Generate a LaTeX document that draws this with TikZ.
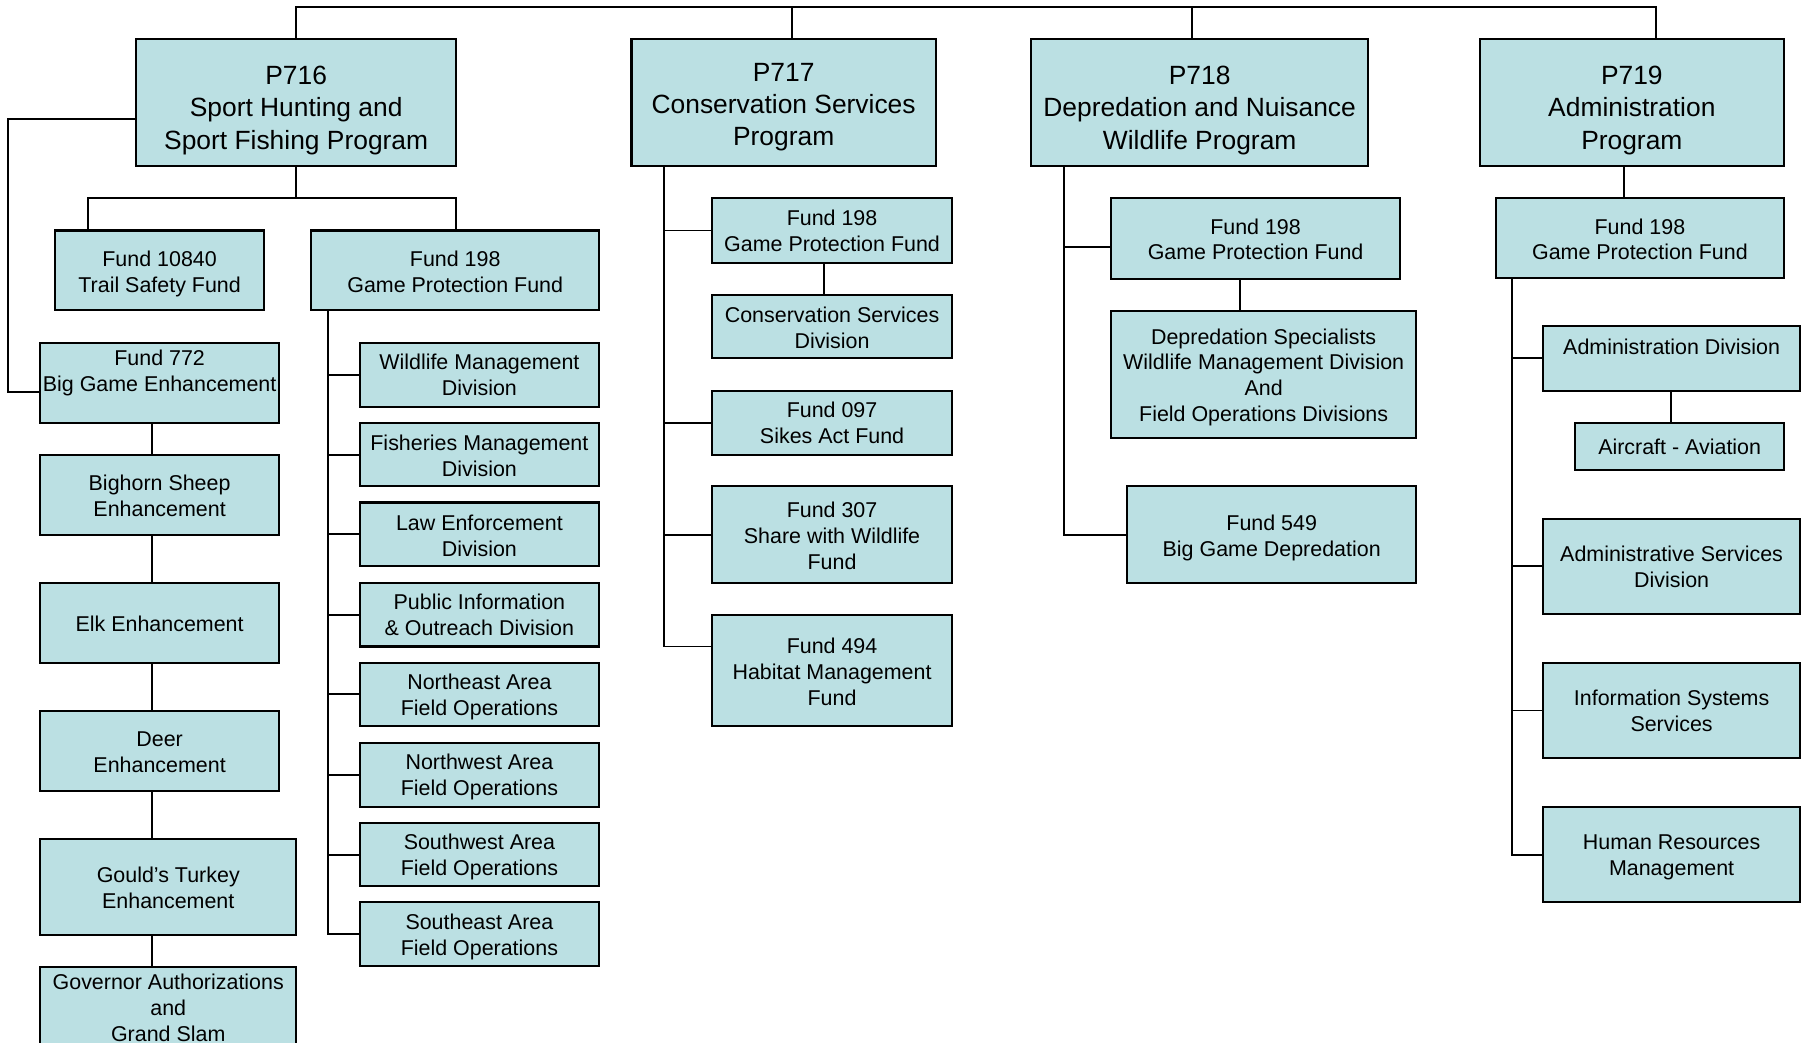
\documentclass[tikz,border=0pt]{standalone}
\usepackage{fontspec}
\setmainfont{Liberation Sans}
\definecolor{boxfill}{RGB}{187,224,227}
\tikzset{
  orgbox/.style={draw=black, line width=1.8pt, fill=boxfill, inner sep=0pt, outer sep=0pt, rectangle},
  smalltxt/.style={inner sep=0pt, align=center, yshift=-2.3pt, font=\fontsize{18.6}{22.5}\selectfont},
  titletxt/.style={inner sep=0pt, align=center, yshift=-2.8pt, font=\fontsize{22.9}{28}\selectfont},
  conn/.style={line width=1.7pt, line cap=rect}
}
\newcommand\bx[8][smalltxt]{%
  \node[orgbox, minimum width={(#5-#3)*1pt}, minimum height={(#6-#4)*1pt}] (#2) at ({(#3+#5)/2},{(#4+#6)/2}) {};
  \node[#1] (#2t) at ({(#3+#5)/2},#7) {\strut #8\strut};
}
\begin{document}
\begin{tikzpicture}[x=1pt,y=-1pt]
\useasboundingbox (0,0) rectangle (1568,905);
% programs
\bx[titletxt]{p716}{118}{34}{396}{144}{93}{P716\\Sport Hunting and\\Sport Fishing Program}
\bx[titletxt]{p717}{548}{34}{812}{144}{90}{P717\\Conservation Services\\Program}
\bx[titletxt]{p718}{895}{34}{1187}{144}{93}{P718\\Depredation and Nuisance\\Wildlife Program}
\bx[titletxt]{p719}{1284}{34}{1548}{144}{93}{P719\\Administration\\Program}
% P716 children
\bx{fa}{48}{200}{229}{269}{235.5}{Fund 10840\\Trail Safety Fund}
\bx{fb}{270}{200}{520}{269}{235.5}{Fund 198\\Game Protection Fund}
\bx{f772}{35}{298}{242}{367}{322}{Fund 772\\Big Game Enhancement}
\bx{bighorn}{35}{395}{242}{464}{430}{Bighorn Sheep\\Enhancement}
\bx{elk}{35}{506}{242}{575}{541}{Elk Enhancement}
\bx{deer}{35}{617}{242}{686}{652}{Deer\\Enhancement}
\bx{turkey}{35}{728}{257}{811}{770}{Gould’s Turkey\\Enhancement}
\bx{gov}{35}{839}{257}{935}{874}{Governor Authorizations\\and\\Grand Slam}
\bx{wm}{312}{298}{520}{353}{325.5}{Wildlife Management\\Division}
\bx{fm}{312}{367}{520}{422}{395}{Fisheries Management\\Division}
\bx{le}{312}{436}{520}{491}{464.5}{Law Enforcement\\Division}
\bx{pi}{312}{506}{520}{561}{533.5}{Public Information\\\& Outreach Division}
\bx{ne}{312}{575}{520}{630}{603}{Northeast Area\\Field Operations}
\bx{nw}{312}{645}{520}{700}{672}{Northwest Area\\Field Operations}
\bx{sw}{312}{714}{520}{769}{742}{Southwest Area\\Field Operations}
\bx{se}{312}{783}{520}{838}{811}{Southeast Area\\Field Operations}
% P717 children
\bx{g717}{618}{172}{826}{228}{200.5}{Fund 198\\Game Protection Fund}
\bx{csd}{618}{256}{826}{311}{284}{Conservation Services\\Division}
\bx{f097}{618}{339}{826}{395}{367}{Fund 097\\Sikes Act Fund}
\bx{f307}{618}{422}{826}{506}{464.5}{Fund 307\\Share with Wildlife\\Fund}
\bx{f494}{618}{534}{826}{630}{583}{Fund 494\\Habitat Management\\Fund}
% P718 children
\bx{g718}{964}{172}{1215}{242}{207.5}{Fund 198\\Game Protection Fund}
\bx{dep}{964}{270}{1229}{380}{325.5}{Depredation Specialists\\Wildlife Management Division\\And\\Field Operations Divisions}
\bx{f549}{978}{422}{1229}{506}{464.5}{Fund 549\\Big Game Depredation}
% P719 children
\bx{g719}{1298}{172}{1548}{241}{207.5}{Fund 198\\Game Protection Fund}
\bx{adm}{1339}{283}{1562}{339}{301}{Administration Division}
\bx{air}{1367}{367}{1548}{408}{388}{Aircraft - Aviation}
\bx{ads}{1339}{450}{1562}{533}{492}{Administrative Services\\Division}
\bx{iss}{1339}{575}{1562}{658}{617}{Information Systems\\Services}
\bx{hrm}{1339}{700}{1562}{783}{742}{Human Resources\\Management}
% top bus
\coordinate (b717) at (687,6);
\coordinate (b718) at (1034,6);
\coordinate (b719) at (1437,6);
\draw[conn] (p716.north) |- (b719) -- (b719 |- p719.north);
\draw[conn] (b717) -- (b717 |- p717.north);
\draw[conn] (b718) -- (b718 |- p718.north);
% P716 branches
\coordinate (j1) at (76,172);
\coordinate (j2) at (396,172);
\draw[conn] (p716.south) -- (p716.south |- j1);
\draw[conn] (j1 |- fa.north) -- (j1) -- (j2) -- (j2 |- fb.north);
\coordinate (l1) at (7,103);
\coordinate (l2) at (7,340);
\draw[conn] (p716.west |- l1) -- (l1) -- (l2) -- (l2 -| f772.west);
\coordinate (cx) at (132,0);
\draw[conn] (f772.south -| cx) -- (bighorn.north -| cx);
\draw[conn] (bighorn.south -| cx) -- (elk.north -| cx);
\draw[conn] (elk.south -| cx) -- (deer.north -| cx);
\draw[conn] (deer.south -| cx) -- (turkey.north -| cx);
\draw[conn] (turkey.south -| cx) -- (gov.north -| cx);
\coordinate (v1) at (285,0);
\draw[conn] (fb.south -| v1) |- (se.west);
\foreach \n in {wm,fm,le,pi,ne,nw,sw}{\draw[conn] (v1 |- \n.west) -- (\n.west);}
% P717 branches
\coordinate (v2) at (576,0);
\coordinate (s494) at (618,561);
\draw[conn] (p717.south -| v2) |- (s494);
\foreach \n in {g717,f097,f307}{\draw[conn] (v2 |- \n.west) -- (\n.west);}
\coordinate (x715) at (715,0);
\draw[conn] (g717.south -| x715) -- (csd.north -| x715);
% P718 branches
\coordinate (v3) at (923,0);
\coordinate (s718) at (964,214);
\draw[conn] (p718.south -| v3) |- (f549.west);
\draw[conn] (v3 |- s718) -- (s718);
\coordinate (x1076) at (1076,0);
\draw[conn] (g718.south -| x1076) -- (dep.north -| x1076);
% P719 branches
\coordinate (x1409) at (1409,0);
\draw[conn] (p719.south -| x1409) -- (g719.north -| x1409);
\coordinate (v4) at (1312,0);
\draw[conn] (g719.south -| v4) |- (hrm.west);
\foreach \n in {adm,ads,iss}{\draw[conn] (v4 |- \n.west) -- (\n.west);}
\coordinate (x1450) at (1450,0);
\draw[conn] (adm.south -| x1450) -- (air.north -| x1450);
\end{tikzpicture}
\end{document}
